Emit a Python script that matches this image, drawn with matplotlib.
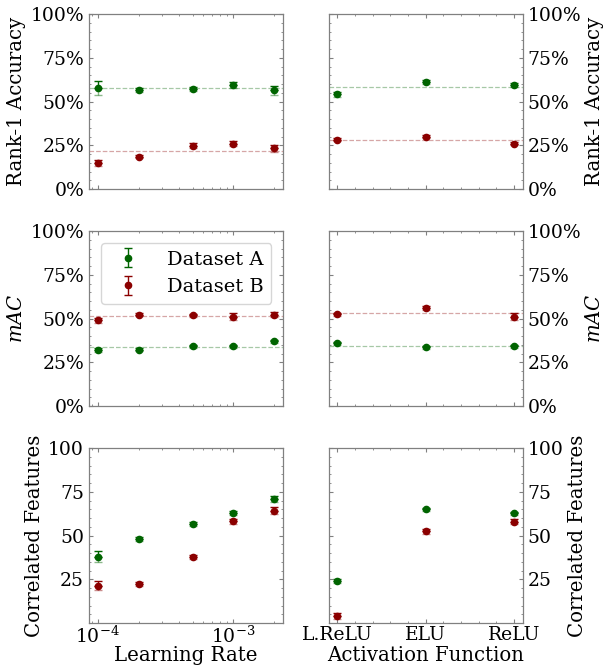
import numpy as np
import matplotlib
matplotlib.use("Agg")
import matplotlib.pyplot as plt
from matplotlib.ticker import PercentFormatter, MultipleLocator

plt.rcParams.update({
    "font.family": "DejaVu Serif",
    "mathtext.fontset": "dejavuserif",
    "font.size": 13.5,
    "axes.labelsize": 14.2,
    "axes.edgecolor": "#808080",
    "axes.linewidth": 0.9,
    "xtick.color": "#808080",
    "ytick.color": "#808080",
    "xtick.labelcolor": "black",
    "ytick.labelcolor": "black",
    "xtick.direction": "in",
    "ytick.direction": "in",
    "xtick.top": True,
    "ytick.right": True,
    "xtick.major.size": 3,
    "ytick.major.size": 3,
    "xtick.minor.size": 1.5,
    "ytick.minor.size": 1.5,
    "xtick.major.pad": 2,
    "xtick.minor.visible": True,
    "ytick.minor.visible": True,
})

# learning rate sweep
lr = [1e-4, 2e-4, 5e-4, 1e-3, 2e-3]
lr_rank1_a = [57.7, 56.5, 57.3, 59.4, 56.4]
lr_rank1_a_err = [4.0, 1.0, 1.2, 1.5, 2.5]
lr_rank1_b = [15.0, 18.6, 24.7, 26.0, 23.3]
lr_rank1_b_err = [1.8, 1.0, 1.5, 1.2, 2.0]
lr_mac_a = [32.2, 32.2, 34.1, 34.3, 37.1]
lr_mac_a_err = [1.0, 0.8, 0.8, 0.8, 0.8]
lr_mac_b = [49.0, 52.2, 52.0, 51.2, 52.2]
lr_mac_b_err = [1.5, 0.8, 0.8, 2.0, 1.5]
lr_corr_a = [38.1, 48.0, 56.5, 62.9, 71.2]
lr_corr_a_err = [3.2, 1.0, 1.2, 1.2, 1.7]
lr_corr_b = [21.4, 22.2, 37.9, 58.3, 64.2]
lr_corr_b_err = [2.5, 1.2, 1.2, 1.5, 2.0]

# activation function sweep
act = ["L.ReLU", "ELU", "ReLU"]
act_rank1_a = [54.1, 61.1, 59.4]
act_rank1_a_err = [1.5, 1.3, 1.3]
act_rank1_b = [28.1, 30.0, 26.0]
act_rank1_b_err = [0.9, 1.0, 1.0]
act_mac_a = [35.8, 33.7, 34.1]
act_mac_a_err = [0.8, 0.8, 0.8]
act_mac_b = [52.4, 56.2, 51.2]
act_mac_b_err = [0.8, 1.0, 2.0]
act_corr_a = [24.2, 65.0, 62.7]
act_corr_a_err = [1.0, 1.0, 1.0]
act_corr_b = [4.2, 52.5, 58.1]
act_corr_b_err = [1.5, 1.5, 1.5]

color_a = "darkgreen"
color_b = "darkred"


def draw_series(ax, x, y, err, color, label):
    err = np.asarray(err)
    # lower half of the error bar in a lighter shade, upper half solid
    ax.errorbar(x, y, yerr=[err, np.zeros_like(err)], fmt="none", ecolor=color,
                alpha=0.45, capsize=3, elinewidth=1)
    ax.errorbar(x, y, yerr=[np.zeros_like(err), err], fmt="o", color=color,
                ms=4.5, capsize=3, elinewidth=1, label=label)


def draw_panel(ax, x, ya, ea, yb, eb, mean_lines):
    draw_series(ax, x, ya, ea, color_a, "Dataset A")
    draw_series(ax, x, yb, eb, color_b, "Dataset B")
    if mean_lines:
        ax.axhline(np.mean(ya), color=color_a, ls="--", lw=0.9, alpha=0.35)
        ax.axhline(np.mean(yb), color=color_b, ls="--", lw=0.9, alpha=0.35)


fig, axes = plt.subplots(3, 2, figsize=(6.05, 6.68), dpi=100)
plt.subplots_adjust(left=0.147, right=0.864, top=0.979, bottom=0.067,
                    wspace=0.234, hspace=0.24)

act_x = np.arange(len(act))

draw_panel(axes[0, 0], lr, lr_rank1_a, lr_rank1_a_err, lr_rank1_b, lr_rank1_b_err, True)
draw_panel(axes[1, 0], lr, lr_mac_a, lr_mac_a_err, lr_mac_b, lr_mac_b_err, True)
draw_panel(axes[2, 0], lr, lr_corr_a, lr_corr_a_err, lr_corr_b, lr_corr_b_err, False)
draw_panel(axes[0, 1], act_x, act_rank1_a, act_rank1_a_err, act_rank1_b, act_rank1_b_err, True)
draw_panel(axes[1, 1], act_x, act_mac_a, act_mac_a_err, act_mac_b, act_mac_b_err, True)
draw_panel(axes[2, 1], act_x, act_corr_a, act_corr_a_err, act_corr_b, act_corr_b_err, False)

ylabels = ["Rank-1 Accuracy", "$mAC$", "Correlated Features"]

for row in range(3):
    for col in range(2):
        ax = axes[row, col]
        ax.set_ylim(0, 100)
        ax.yaxis.set_minor_locator(MultipleLocator(5))
        if row < 2:
            ax.yaxis.set_major_locator(MultipleLocator(25))
            ax.yaxis.set_major_formatter(PercentFormatter(xmax=100, decimals=0))
        else:
            ax.set_yticks([25, 50, 75, 100])
        ax.set_ylabel(ylabels[row], labelpad=3)
        if col == 0:
            ax.set_xscale("log")
        else:
            ax.set_xticks(act_x)
            ax.xaxis.set_minor_locator(MultipleLocator(0.2))
            ax.yaxis.set_label_position("right")
            ax.tick_params(axis="y", which="both", labelleft=False, labelright=True)
        if row < 2:
            ax.tick_params(axis="x", which="both", labelbottom=False)

axes[2, 1].set_xticklabels(act)
axes[2, 0].set_xlabel("Learning Rate")
axes[2, 1].set_xlabel("Activation Function")
# put both x labels on the same line
for ax in axes[2]:
    ax.xaxis.set_label_coords(0.5, -0.13)

axes[1, 0].legend(loc="upper right", borderaxespad=0.6, fontsize=14,
                  handletextpad=1.0)

plt.savefig("out.png", dpi=100)
